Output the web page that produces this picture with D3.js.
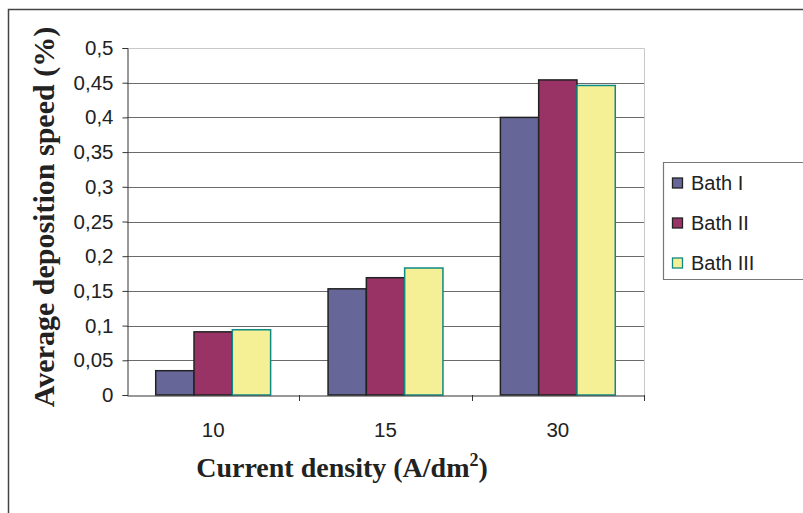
<!DOCTYPE html>
<html>
<head>
<meta charset="utf-8">
<script src="https://cdn.jsdelivr.net/npm/d3@7"></script>
<style>
  body { margin: 0; background: #fff; }
  svg { display: block; }
</style>
</head>
<body>
<div id="chart"></div>
<script>
var width = 803,
    height = 513;

// data
var densities = ["10", "15", "30"];
var baths = ["Bath I", "Bath II", "Bath III"];
var bath1 = [0.035, 0.153, 0.400];
var bath2 = [0.091, 0.169, 0.454];
var bath3 = [0.094, 0.183, 0.446];
var yTicks = [0, 0.05, 0.1, 0.15, 0.2, 0.25, 0.3, 0.35, 0.4, 0.45, 0.5];

var fills = ["#666699", "#993366", "#F5F095"];
var strokes = ["#222", "#222", "#0E8A84"];

var margin = {left: 127, right: 159, top: 48, bottom: 118};

var svg = d3.select("#chart").append("svg")
    .attr("width", width)
    .attr("height", height);

// outer frame
svg.append("path")
    .attr("d", "M8.5," + height + "V9.5H" + width)
    .attr("fill", "none")
    .attr("stroke", "#444")
    .attr("stroke-width", 1.5);

var x = d3.scaleBand()
    .domain(densities)
    .range([margin.left, width - margin.right]);

var x1 = d3.scaleBand()
    .domain(baths)
    .range([0, x.bandwidth()])
    .paddingOuter(0.75)
    .paddingInner(0);

var y = d3.scaleLinear()
    .domain([0, 0.5])
    .range([height - margin.bottom, margin.top]);

var fmt = function(d) { return String(+d.toFixed(2)).replace(".", ","); };

// plot area border (light)
svg.append("path")
    .attr("d", "M" + margin.left + "," + (y(0.5) + 0.5) + "H" + (x.range()[1] + 0.5) + "V" + y(0))
    .attr("fill", "none")
    .attr("stroke", "#c8c8c8");

// gridlines
svg.append("g")
  .selectAll("line")
  .data(yTicks.filter(function(d) { return d > 0 && d < 0.5; }))
  .enter().append("line")
    .attr("x1", margin.left)
    .attr("x2", x.range()[1])
    .attr("y1", function(d) { return Math.round(y(d)) + 0.5; })
    .attr("y2", function(d) { return Math.round(y(d)) + 0.5; })
    .attr("stroke", "#6a6a6a")
    .attr("stroke-width", 1);

// bars
var series = [bath1, bath2, bath3];
var rows = [];
densities.forEach(function(c, i) {
  baths.forEach(function(b, j) {
    rows.push({cat: c, bath: b, j: j, value: series[j][i]});
  });
});

svg.append("g")
  .selectAll("rect")
  .data(rows)
  .enter().append("rect")
    .attr("x", function(d) { return x(d.cat) + x1(d.bath); })
    .attr("y", function(d) { return y(d.value); })
    .attr("width", x1.bandwidth())
    .attr("height", function(d) { return y(0) - y(d.value); })
    .attr("fill", function(d) { return fills[d.j]; })
    .attr("stroke", function(d) { return strokes[d.j]; })
    .attr("stroke-width", 1.5);

// y axis
var yAxis = svg.append("g")
    .attr("transform", "translate(" + (margin.left + 0.5) + ",0)")
    .call(d3.axisLeft(y).tickValues(yTicks).tickFormat(fmt).tickSize(5).tickPadding(9));
yAxis.attr("font-size", null).attr("font-family", null);
yAxis.select(".domain").attr("stroke", "#333");
yAxis.selectAll(".tick line").attr("stroke", "#333");
yAxis.selectAll("text")
    .attr("fill", "#222")
    .attr("font-family", "Liberation Sans, Arial, sans-serif")
    .attr("font-size", 20.5);

// x axis
var xAxis = svg.append("g")
    .attr("transform", "translate(0," + (y(0) + 0.5) + ")")
    .call(d3.axisBottom(x).tickSize(0).tickPadding(27));
xAxis.attr("font-size", null).attr("font-family", null);
xAxis.select(".domain").attr("stroke", "#333");
xAxis.selectAll("text")
    .attr("fill", "#222")
    .attr("font-family", "Liberation Sans, Arial, sans-serif")
    .attr("font-size", 20.5);

// category separator ticks
svg.append("g")
  .selectAll("line")
  .data(x.domain().slice(1).concat(["end"]))
  .enter().append("line")
    .attr("x1", function(d) { return Math.round(d === "end" ? x.range()[1] : x(d)) + 0.5; })
    .attr("x2", function(d) { return Math.round(d === "end" ? x.range()[1] : x(d)) + 0.5; })
    .attr("y1", y(0))
    .attr("y2", y(0) + 6)
    .attr("stroke", "#333");

// axis titles
svg.append("text")
    .attr("transform", "translate(54,217) rotate(-90)")
    .attr("text-anchor", "middle")
    .attr("font-family", "Liberation Serif, Times New Roman, serif")
    .attr("font-weight", "bold")
    .attr("font-size", 30)
    .attr("fill", "#222")
    .text("Average deposition speed (%)");

var xt = svg.append("text")
    .attr("x", 342)
    .attr("y", 477)
    .attr("text-anchor", "middle")
    .attr("font-family", "Liberation Serif, Times New Roman, serif")
    .attr("font-weight", "bold")
    .attr("font-size", 28)
    .attr("fill", "#222");
xt.append("tspan").text("Current density (A/dm");
xt.append("tspan").attr("dy", -11).attr("font-size", 18).text("2");
xt.append("tspan").attr("dy", 11).text(")");

// legend
var legend = svg.append("g");
legend.append("path")
    .attr("d", "M" + width + ",162.5H663.5V279.5H" + width)
    .attr("fill", "#fff")
    .attr("stroke", "#777")
    .attr("stroke-width", 1.2);

var item = legend.selectAll("g.item")
    .data(baths)
  .enter().append("g")
    .attr("class", "item")
    .attr("transform", function(d, i) { return "translate(672," + (183 + i * 40) + ")"; });

item.append("rect")
    .attr("x", 0.5)
    .attr("y", -5)
    .attr("width", 10)
    .attr("height", 10)
    .attr("fill", function(d, i) { return fills[i]; })
    .attr("stroke", function(d, i) { return strokes[i]; })
    .attr("stroke-width", 1.3);

item.append("text")
    .attr("x", 19)
    .attr("y", 7)
    .attr("font-family", "Liberation Sans, Arial, sans-serif")
    .attr("font-size", 20)
    .attr("fill", "#222")
    .text(function(d) { return d; });
</script>
</body>
</html>
